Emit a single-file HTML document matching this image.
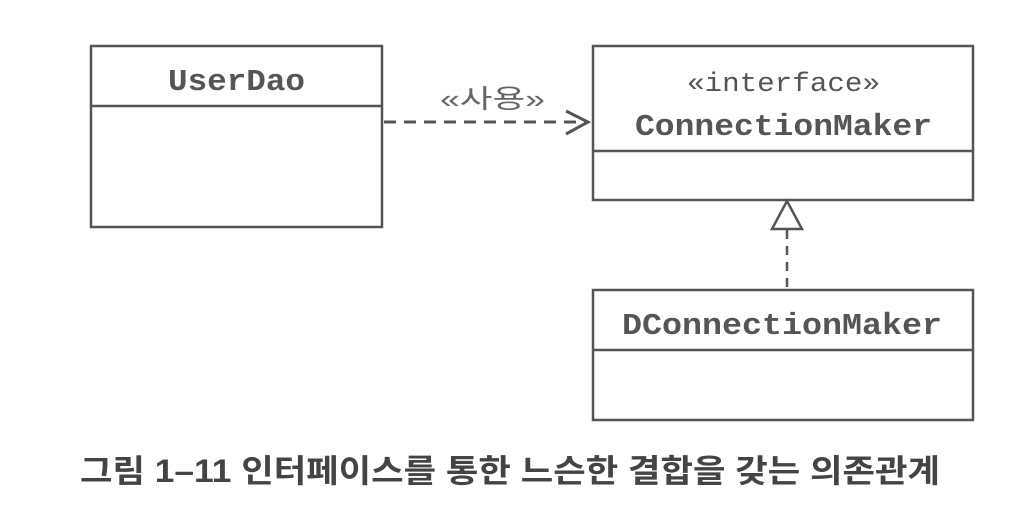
<!DOCTYPE html>
<html><head><meta charset="utf-8"><style>
html,body{margin:0;padding:0;background:#fff;width:1024px;height:522px;overflow:hidden}
</style></head><body>
<svg width="1024" height="522" xmlns="http://www.w3.org/2000/svg">
<g fill="none" stroke="#555" stroke-width="2.5">
<rect x="91" y="46" width="291" height="181"/>
<line x1="91" y1="106" x2="382" y2="106"/>
<rect x="593" y="46" width="380" height="154"/>
<line x1="593" y1="151" x2="973" y2="151"/>
<rect x="593" y="290" width="380" height="130"/>
<line x1="593" y1="350" x2="973" y2="350"/>
<line x1="384" y1="122" x2="585" y2="122" stroke-dasharray="12,8" stroke-width="3"/>
<polyline points="566,111 588,122 566,134" stroke-width="3"/>
<polygon points="787,201 772,229 802,229" fill="#fff"/>
<line x1="787" y1="230" x2="787" y2="290" stroke-dasharray="9,7"/>
</g>
<g font-family="'Liberation Mono',monospace" font-weight="bold" fill="#555" font-size="31">
<text x="168" y="90" textLength="137" lengthAdjust="spacingAndGlyphs">UserDao</text>
<text x="635" y="135" textLength="297" lengthAdjust="spacingAndGlyphs">ConnectionMaker</text>
<text x="622" y="334" textLength="320" lengthAdjust="spacingAndGlyphs">DConnectionMaker</text>
<text x="687" y="91" font-weight="normal" font-size="27" textLength="193" lengthAdjust="spacingAndGlyphs">«interface»</text>
</g>
<text x="440" y="108" textLength="105" lengthAdjust="spacingAndGlyphs" font-family="'Liberation Sans','Noto Sans CJK KR',sans-serif" font-size="26" fill="#666">«사용»</text>
<text x="80" y="482" font-family="'Liberation Sans','Noto Sans CJK KR',sans-serif" font-size="32" font-weight="bold" fill="#444" textLength="860" lengthAdjust="spacingAndGlyphs">그림 1–11 인터페이스를 통한 느슨한 결합을 갖는 의존관계</text>
</svg>
</body></html>
